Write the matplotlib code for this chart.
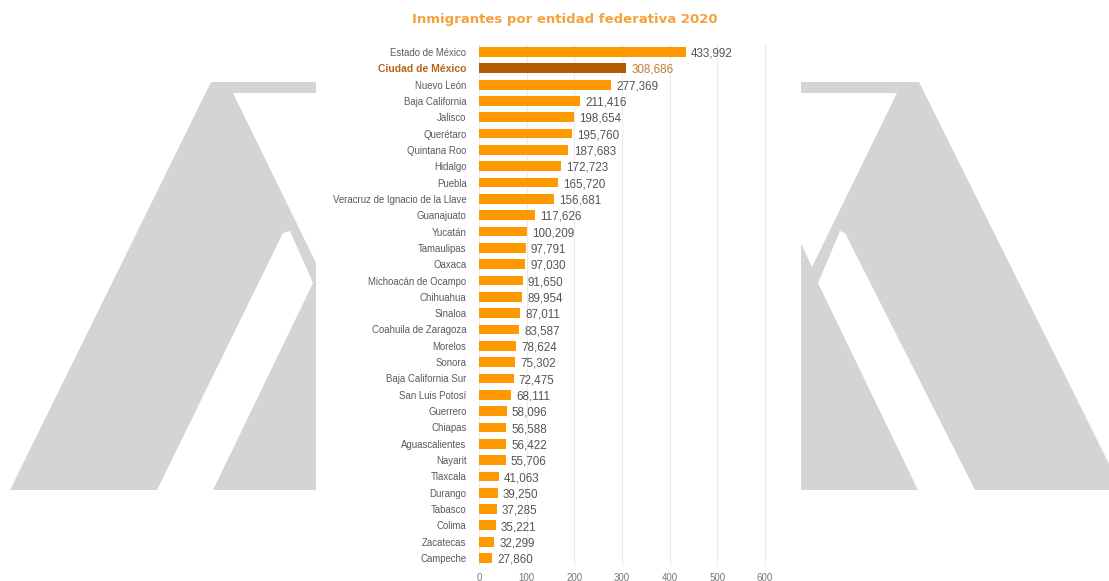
import matplotlib.pyplot as plt
from matplotlib.patches import Polygon, Rectangle

estados = ["Estado de México", "Ciudad de México", "Nuevo León", "Baja California",
           "Jalisco", "Querétaro", "Quintana Roo", "Hidalgo", "Puebla",
           "Veracruz de Ignacio de la Llave", "Guanajuato", "Yucatán", "Tamaulipas",
           "Oaxaca", "Michoacán de Ocampo", "Chihuahua", "Sinaloa",
           "Coahuila de Zaragoza", "Morelos", "Sonora", "Baja California Sur",
           "San Luis Potosí", "Guerrero", "Chiapas", "Aguascalientes", "Nayarit",
           "Tlaxcala", "Durango", "Tabasco", "Colima", "Zacatecas", "Campeche"]
inmigrantes = [433992, 308686, 277369, 211416, 198654, 195760, 187683, 172723,
               165720, 156681, 117626, 100209, 97791, 97030, 91650, 89954, 87011,
               83587, 78624, 75302, 72475, 68111, 58096, 56588, 56422, 55706,
               41063, 39250, 37285, 35221, 32299, 27860]
destacado = "Ciudad de México"
ticks_x = [0, 100, 200, 300, 400, 500, 600]

W, H = 1109, 581
fig = plt.figure(figsize=(W / 100, H / 100), dpi=100)

# marca de agua de fondo (logo gris)
bg = fig.add_axes([0, 0, 1, 1], zorder=0)
bg.set_xlim(0, W)
bg.set_ylim(H, 0)
bg.axis("off")
gris = "#d4d4d4"
bg.add_patch(Polygon([(211, 82), (919, 82), (1122, 490), (10, 490)], color=gris, lw=0))
bg.add_patch(Polygon([(233, 93), (897, 93), (812, 267), (790, 220), (340, 220), (318, 267)],
                     color="white", lw=0))
bg.add_patch(Polygon([(157, 490), (283, 233), (290, 231), (313, 283), (213, 490)],
                     color="white", lw=0))
bg.add_patch(Polygon([(975, 490), (845, 233), (840, 231), (818, 283), (918, 490)],
                     color="white", lw=0))
bg.add_patch(Rectangle((316, 0), 485, H, color="white", lw=0))

fig.text(565 / W, 1 - 20 / H, "Inmigrantes por entidad federativa 2020",
         ha="center", va="center", fontsize=9.5, fontweight="bold", color="#f5a23c")

xmax = 606
ax = fig.add_axes([479 / W, (H - 566.2) / H, 286 / 600 * xmax / W, 522.4 / H], zorder=1)
ax.set_facecolor("none")

miles = [v / 1000 for v in inmigrantes]
colores = ["#b45a00" if e == destacado else "#ff9900" for e in estados]
ypos = list(range(len(estados)))
ax.barh(ypos, miles, height=0.6, color=colores, zorder=2)

for y, v, e in zip(ypos, inmigrantes, estados):
    c = "#c27a30" if e == destacado else "#555555"
    ax.text(v / 1000 + 11, y + 0.1, f"{v:,}", va="center", ha="left",
            fontsize=8.4, color=c, family="Liberation Sans")

ax.set_xlim(0, xmax)
ax.set_ylim(len(estados) - 0.5, -0.5)
ax.set_xticks(ticks_x)
ax.set_yticks(ypos)
ax.set_yticklabels(estados, family="Liberation Sans", fontsize=6.9, color="#5a5a5a")
for lab in ax.get_yticklabels():
    if lab.get_text() == destacado:
        lab.set_fontweight("bold")
        lab.set_fontsize(7.5)
        lab.set_color("#b8651b")
ax.tick_params(axis="y", length=0, pad=9)
ax.tick_params(axis="x", length=0, pad=5, labelsize=7, labelcolor="#777777")
for lab in ax.get_xticklabels():
    lab.set_family("Liberation Sans")
ax.grid(axis="x", color="#ececec", lw=0.8, zorder=0)
for s in ax.spines.values():
    s.set_visible(False)

fig.savefig("out.png", dpi=100)
